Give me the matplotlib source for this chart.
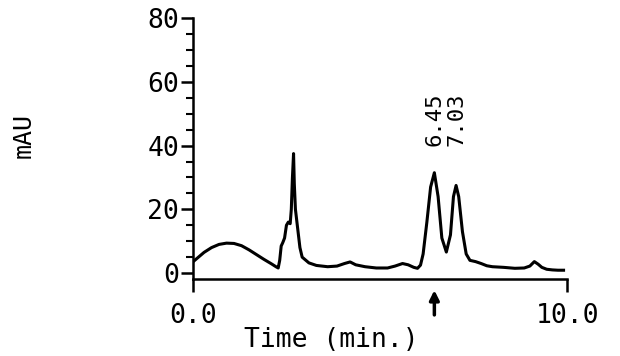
import numpy as np
import matplotlib.pyplot as plt
from matplotlib.ticker import MultipleLocator

# chromatogram trace
times = [0.0, 0.15, 0.3, 0.5, 0.7, 0.9, 1.1, 1.3, 1.5, 1.7, 1.9, 2.1, 2.22, 2.28,
         2.32, 2.36, 2.40, 2.45, 2.50, 2.55, 2.60, 2.63, 2.66, 2.69, 2.71, 2.74,
         2.8, 2.86, 2.92, 3.0, 3.1, 3.3, 3.6, 3.85, 4.05, 4.2, 4.35, 4.6, 4.9,
         5.2, 5.4, 5.6, 5.75, 5.9, 6.0, 6.08, 6.15, 6.25, 6.35, 6.45, 6.55, 6.65,
         6.77, 6.88, 6.96, 7.03, 7.1, 7.2, 7.3, 7.4, 7.55, 7.7, 7.85, 8.0, 8.3,
         8.6, 8.85, 9.0, 9.12, 9.22, 9.32, 9.45, 9.6, 9.75, 9.9]
mau = [3.5, 5.0, 6.5, 8.0, 9.0, 9.4, 9.3, 8.6, 7.3, 5.8, 4.3, 2.9, 2.0, 1.6,
       4.0, 8.5, 9.5, 11.0, 15.0, 16.0, 15.5, 20.0, 30.0, 37.5, 28.0, 20.0,
       14.0, 8.0, 5.0, 4.2, 3.2, 2.4, 2.0, 2.2, 3.0, 3.5, 2.6, 2.0, 1.6,
       1.6, 2.2, 3.0, 2.6, 1.8, 1.5, 2.5, 6.0, 16.0, 27.0, 31.5, 24.0, 11.0,
       6.6, 12.0, 24.0, 27.5, 24.0, 13.0, 6.0, 4.0, 3.6, 3.0, 2.3, 2.0, 1.8,
       1.5, 1.6, 2.2, 3.6, 2.8, 1.8, 1.2, 1.0, 0.9, 0.9]

peak_times = [6.45, 7.03]
peak_labels = ['6.45', '7.03']
injection_mark = 6.45

plt.rcParams['font.family'] = 'DejaVu Sans Mono'

fig = plt.figure(figsize=(6.2, 3.56), dpi=100)
ax = fig.add_axes([0.311, 0.215, 0.604, 0.734])

ax.plot(times, mau, color='black', lw=2.2)

ax.set_xlim(0, 10)
ax.set_ylim(-2, 80)
ax.spines['top'].set_visible(False)
ax.spines['right'].set_visible(False)
for s in ('left', 'bottom'):
    ax.spines[s].set_linewidth(1.8)

ax.set_yticks([0, 20, 40, 60, 80])
ax.yaxis.set_minor_locator(MultipleLocator(5))
ax.tick_params(axis='y', which='major', length=9, width=1.8, labelsize=19, pad=1)
ax.tick_params(axis='y', which='minor', length=5, width=1.5)

ax.set_xticks([0, 10])
ax.set_xticklabels(['0.0', '10.0'])
ax.tick_params(axis='x', which='major', length=9, width=1.8, labelsize=19, pad=8)

ax.set_ylabel('mAU', fontsize=18)
ax.yaxis.set_label_coords(-0.42, 0.55)
ax.set_xlabel('Time (min.)', fontsize=19, va='center')
ax.xaxis.set_label_coords(0.37, -0.232)

for t, lab in zip(peak_times, peak_labels):
    ax.text(t, 40, lab, rotation=90, ha='center', va='bottom', fontsize=16)

ax.annotate('', xy=(injection_mark, -4.5), xytext=(injection_mark, -14),
            arrowprops=dict(arrowstyle='-|>', lw=2.5, color='black',
                            mutation_scale=14),
            annotation_clip=False)

fig.savefig('out.png', dpi=100)
